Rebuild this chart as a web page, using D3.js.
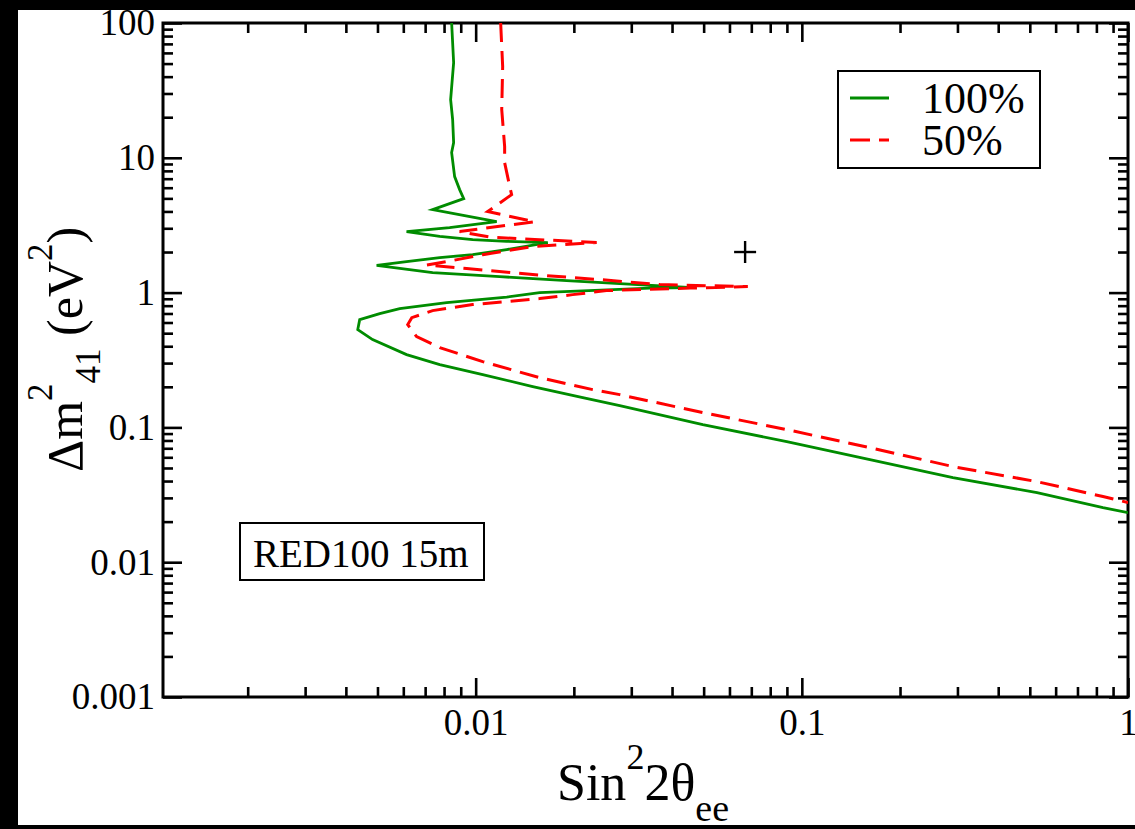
<!DOCTYPE html>
<html><head><meta charset="utf-8">
<script src="https://cdn.jsdelivr.net/npm/d3@7"></script>
<style>
html,body{margin:0;padding:0;background:#000;overflow:hidden;}
svg{display:block;}
svg text{font-family:"Liberation Serif","Times New Roman",serif !important;}
</style>
</head><body>
<svg id="chart" width="1135" height="829"></svg>
<script>
// ---- data ----
const greenSin2 = [0.00844,0.00856,0.00838,0.00850,0.00856,0.00844,0.00862,0.00893,0.00919,0.00738,0.00925,0.0116,0.00832,0.00614,0.00776,0.00979,0.01245,0.01664,0.01245,0.00979,0.00776,0.00614,0.00497,0.00738,0.01185,0.0190,0.02765,0.0463,0.0342,0.01571,0.01245,0.00815,0.00585,0.00508,0.00441,0.00435,0.00483,0.00614,0.00776,0.01051,0.01496,0.0213,0.02765,0.0497,0.0899,0.1617,0.2905,0.526,0.838,1.0];
const greenDm2  = [100,50.8,27.0,19.2,12.97,10.93,7.25,5.81,4.98,4.13,3.725,3.36,3.035,2.835,2.617,2.473,2.402,2.35,2.085,1.912,1.818,1.698,1.594,1.407,1.314,1.227,1.166,1.089,1.080,1.0,0.926,0.843,0.761,0.699,0.630,0.532,0.448,0.347,0.292,0.2465,0.2008,0.1664,0.1451,0.1049,0.0785,0.0577,0.0424,0.0328,0.0254,0.0233];
const redSin2 = [0.01193,0.01210,0.01202,0.01227,0.01227,0.01272,0.01289,0.01088,0.01517,0.00893,0.01104,0.02350,0.01496,0.01051,0.00832,0.00708,0.00938,0.01496,0.0240,0.0367,0.0683,0.0453,0.0252,0.01984,0.01571,0.00979,0.00738,0.00637,0.00619,0.00659,0.00776,0.01051,0.01571,0.02285,0.02765,0.0497,0.0899,0.1617,0.2905,0.526,0.838,1.0];
const redDm2  = [100,47.5,22.8,12.11,9.21,6.11,5.33,3.99,3.36,2.835,2.581,2.35,2.194,1.912,1.713,1.600,1.507,1.360,1.249,1.147,1.108,1.080,1.035,0.966,0.903,0.815,0.735,0.652,0.579,0.472,0.391,0.3076,0.234,0.1907,0.175,0.1288,0.0963,0.0708,0.0512,0.0396,0.0307,0.0277];
const seriesNames = ["100%", "50%"];
const xTicks = [0.01, 0.1, 1];
const xTickLabels = ["0.01", "0.1", "1"];
const yTicks = [100, 10, 1, 0.1, 0.01, 0.001];
const yTickLabels = ["100", "10", "1", "0.1", "0.01", "0.001"];
const markerSin2 = [0.067];
const markerDm2 = [2.0];
const boxLabel = "RED100 15m";

// ---- layout ----
const W = 1135, H = 829;
const L = 163, R = 1128, T = 23, B = 697;
const FONT = "Liberation Serif";
const GREEN = "#008c00", RED = "#ff0000";

const svg = d3.select("#chart");
svg.append("rect").attr("x", 0).attr("y", 0).attr("width", W).attr("height", H).attr("fill", "#000");
svg.append("rect").attr("x", 18).attr("y", 10).attr("width", W - 18).attr("height", 815).attr("fill", "#fff");

const x = d3.scaleLog().domain([0.0011, 1]).range([L, R]);
const y = d3.scaleLog().domain([0.001, 100]).range([B, T]);

function minors(lo, hi) {
  const out = [];
  for (let e = lo; e < hi; e++) for (let k = 2; k <= 9; k++) out.push(k * Math.pow(10, e));
  return out;
}
const xMinor = minors(-3, 0).filter(v => v >= 0.0011 && v <= 1);
const yMinor = minors(-3, 2);

function styleAxis(g) {
  g.attr("font-family", FONT);
  g.select(".domain").remove();
  g.selectAll(".tick line").attr("stroke", "#000").attr("stroke-width", 2.6);
  g.selectAll(".tick text").attr("font-family", FONT).attr("font-size", 37).attr("fill", "#000");
}

// bottom
svg.append("g").attr("transform", `translate(0,${B})`)
  .call(d3.axisBottom(x).tickValues(xTicks).tickFormat((d, i) => xTickLabels[i]).tickSize(-19).tickSizeOuter(0).tickPadding(12))
  .call(styleAxis);
svg.append("g").attr("transform", `translate(0,${B})`)
  .call(d3.axisBottom(x).tickValues(xMinor).tickFormat("").tickSize(-10).tickSizeOuter(0))
  .call(styleAxis);
// top
svg.append("g").attr("transform", `translate(0,${T})`)
  .call(d3.axisTop(x).tickValues(xTicks).tickFormat("").tickSize(-19).tickSizeOuter(0))
  .call(styleAxis);
svg.append("g").attr("transform", `translate(0,${T})`)
  .call(d3.axisTop(x).tickValues(xMinor).tickFormat("").tickSize(-10).tickSizeOuter(0))
  .call(styleAxis);
// left
svg.append("g").attr("transform", `translate(${L},0)`)
  .call(d3.axisLeft(y).tickValues(yTicks).tickFormat((d, i) => yTickLabels[i]).tickSize(-19).tickSizeOuter(0).tickPadding(8))
  .call(styleAxis);
svg.append("g").attr("transform", `translate(${L},0)`)
  .call(d3.axisLeft(y).tickValues(yMinor).tickFormat("").tickSize(-10).tickSizeOuter(0))
  .call(styleAxis);
// right
svg.append("g").attr("transform", `translate(${R},0)`)
  .call(d3.axisRight(y).tickValues(yTicks).tickFormat("").tickSize(-19).tickSizeOuter(0))
  .call(styleAxis);
svg.append("g").attr("transform", `translate(${R},0)`)
  .call(d3.axisRight(y).tickValues(yMinor).tickFormat("").tickSize(-10).tickSizeOuter(0))
  .call(styleAxis);

// frame
svg.append("rect").attr("x", L).attr("y", T).attr("width", R - L).attr("height", B - T)
  .attr("fill", "none").attr("stroke", "#000").attr("stroke-width", 3);

// curves
svg.append("clipPath").attr("id", "clip").append("rect")
  .attr("x", L).attr("y", T).attr("width", R - L).attr("height", B - T);
const line = d3.line().x(d => x(d[0])).y(d => y(d[1]));
const greenPts = greenSin2.map((v, i) => [v, greenDm2[i]]);
const redPts = redSin2.map((v, i) => [v, redDm2[i]]);
const cg = svg.append("g").attr("clip-path", "url(#clip)");
cg.append("path").datum(greenPts).attr("d", line).attr("fill", "none")
  .attr("stroke", GREEN).attr("stroke-width", 2.8).attr("stroke-linejoin", "miter");
cg.append("path").datum(redPts).attr("d", line).attr("fill", "none")
  .attr("stroke", RED).attr("stroke-width", 3).attr("stroke-dasharray", "19,9");

// plus marker
const mg = svg.append("g");
markerSin2.forEach((v, i) => {
  const px = x(v), py = y(markerDm2[i]);
  mg.append("line").attr("x1", px - 11).attr("x2", px + 11).attr("y1", py).attr("y2", py).attr("stroke", "#000").attr("stroke-width", 2.4);
  mg.append("line").attr("x1", px).attr("x2", px).attr("y1", py - 11).attr("y2", py + 11).attr("stroke", "#000").attr("stroke-width", 2.4);
});

// legend
const lg = svg.append("g");
lg.append("rect").attr("x", 838).attr("y", 71).attr("width", 202).attr("height", 97)
  .attr("fill", "#fff").attr("stroke", "#000").attr("stroke-width", 2);
[[GREEN, null, 98, 113], [RED, "20,9", 140, 155]].forEach((s, i) => {
  lg.append("line").attr("x1", 850).attr("x2", 889).attr("y1", s[2]).attr("y2", s[2])
    .attr("stroke", s[0]).attr("stroke-width", 3).attr("stroke-dasharray", s[1]);
  lg.append("text").attr("x", 922).attr("y", s[3]).attr("font-family", FONT).attr("font-size", 44)
    .text(seriesNames[i]);
});

// text box
svg.append("rect").attr("x", 240).attr("y", 523).attr("width", 244).attr("height", 57)
  .attr("fill", "#fff").attr("stroke", "#000").attr("stroke-width", 2);
svg.append("text").attr("x", 253).attr("y", 567).attr("font-family", FONT).attr("font-size", 39).text(boxLabel);

// x title
const xt = svg.append("text").attr("x", 557).attr("y", 800).attr("font-family", FONT).attr("font-size", 52);
xt.append("tspan").text("Sin");
xt.append("tspan").attr("font-size", 36).attr("dy", -31).text("2");
xt.append("tspan").attr("dy", 31).text("2θ");
xt.append("tspan").attr("font-size", 38).attr("dy", 21).text("ee");

// y title
const yt = svg.append("text").attr("transform", "translate(82,472) rotate(-90)")
  .attr("font-family", FONT).attr("font-size", 50);
yt.append("tspan").text("Δm");
yt.append("tspan").attr("font-size", 35).attr("dy", -30).text("2");
yt.append("tspan").attr("font-size", 35).attr("dy", 48).text("41");
yt.append("tspan").attr("dy", -18).text(" (eV");
yt.append("tspan").attr("font-size", 35).attr("dy", -30).text("2");
yt.append("tspan").attr("dy", 30).text(")");
</script>
</body></html>
